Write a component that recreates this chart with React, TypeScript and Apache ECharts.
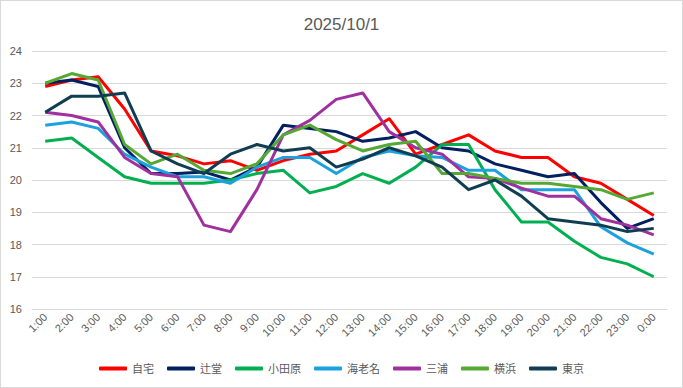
import React, { useEffect, useRef } from "react";
import * as echarts from "echarts";

const hours = ["1:00","2:00","3:00","4:00","5:00","6:00","7:00","8:00","9:00","10:00","11:00","12:00","13:00","14:00","15:00","16:00","17:00","18:00","19:00","20:00","21:00","22:00","23:00","0:00"];

const jitaku = [22.9,23.1,23.2,22.2,20.9,20.75,20.5,20.6,20.3,20.6,20.8,20.9,21.4,21.9,20.8,21.1,21.4,20.9,20.7,20.7,20.1,19.9,19.4,18.9];
const tsujido = [23.0,23.1,22.9,21.0,20.2,20.2,20.25,20.0,20.4,21.7,21.6,21.5,21.2,21.3,21.5,21.0,20.9,20.5,20.3,20.1,20.2,19.3,18.5,18.8];
const odawara = [21.2,21.3,20.7,20.1,19.9,19.9,19.9,20.0,20.2,20.3,19.6,19.8,20.2,19.9,20.4,21.1,21.1,19.7,18.7,18.7,18.1,17.6,17.4,17.0];
const ebina = [21.7,21.8,21.6,20.8,20.4,20.1,20.1,19.9,20.4,20.7,20.7,20.2,20.7,20.9,20.75,20.7,20.3,20.3,19.7,19.7,19.7,18.55,18.05,17.7];
const miura = [22.1,22.0,21.8,20.7,20.2,20.1,18.6,18.4,19.7,21.4,21.85,22.5,22.7,21.5,21.0,20.8,20.1,20.05,19.75,19.5,19.5,18.8,18.6,18.3];
const yokohama = [23.0,23.3,23.1,21.1,20.5,20.8,20.3,20.2,20.5,21.4,21.7,21.25,20.9,21.1,21.2,20.2,20.2,20.05,19.9,19.9,19.8,19.7,19.4,19.6];
const tokyo = [22.1,22.6,22.6,22.7,20.9,20.5,20.2,20.8,21.1,20.9,21.0,20.4,20.65,21.0,20.75,20.4,19.7,20.0,19.5,18.8,18.7,18.6,18.4,18.5];

const seriesNames = ["自宅","辻堂","小田原","海老名","三浦","横浜","東京"];
const seriesData = [jitaku, tsujido, odawara, ebina, miura, yokohama, tokyo];
const seriesColors = ["#FF0000","#002060","#00B050","#1BA1DE","#A0309E","#56A834","#113D52"];

const FONT = "'Liberation Sans', 'Noto Sans CJK JP', sans-serif";

export default function App() {
  const ref = useRef<HTMLDivElement>(null);
  useEffect(() => {
    if (!ref.current) return;
    const chart = echarts.init(ref.current, undefined, { renderer: "svg" });
    chart.setOption({
      animation: false,
      backgroundColor: "#ffffff",
      title: {
        text: "2025/10/1",
        left: "center",
        top: 10,
        textStyle: { fontFamily: FONT, fontSize: 17, fontWeight: "normal", color: "#595959" },
      },
      legend: {
        bottom: 8,
        left: "center",
        icon: "roundRect",
        itemWidth: 28,
        itemHeight: 4,
        itemGap: 13,
        textStyle: { fontFamily: FONT, fontSize: 11, color: "#595959" },
        data: seriesNames,
      },
      grid: { left: 31, right: 15, top: 50, bottom: 78, containLabel: false },
      xAxis: {
        type: "category",
        data: hours,
        boundaryGap: true,
        axisLine: { show: true, lineStyle: { color: "#d9d9d9" } },
        axisTick: { show: false },
        axisLabel: { rotate: 45, fontFamily: FONT, fontSize: 11, color: "#595959", margin: 6, interval: 0 },
      },
      yAxis: {
        type: "value",
        min: 16,
        max: 24,
        interval: 1,
        axisLine: { show: false },
        axisTick: { show: false },
        splitLine: { lineStyle: { color: "#d9d9d9", width: 1 } },
        axisLabel: { fontFamily: FONT, fontSize: 11, color: "#595959", margin: 10 },
      },
      series: seriesNames.map((name, i) => ({
        name,
        type: "line",
        data: seriesData[i],
        symbol: "none",
        lineStyle: { width: 3, color: seriesColors[i], join: "round" },
        itemStyle: { color: seriesColors[i] },
      })),
    });
    return () => chart.dispose();
  }, []);
  return (
    <div
      style={{
        position: "fixed",
        left: 0,
        top: 0,
        width: 683,
        height: 388,
        boxSizing: "border-box",
        border: "1px solid #d9d9d9",
        background: "#fff",
      }}
    >
      <div ref={ref} style={{ width: 681, height: 386 }} />
    </div>
  );
}
